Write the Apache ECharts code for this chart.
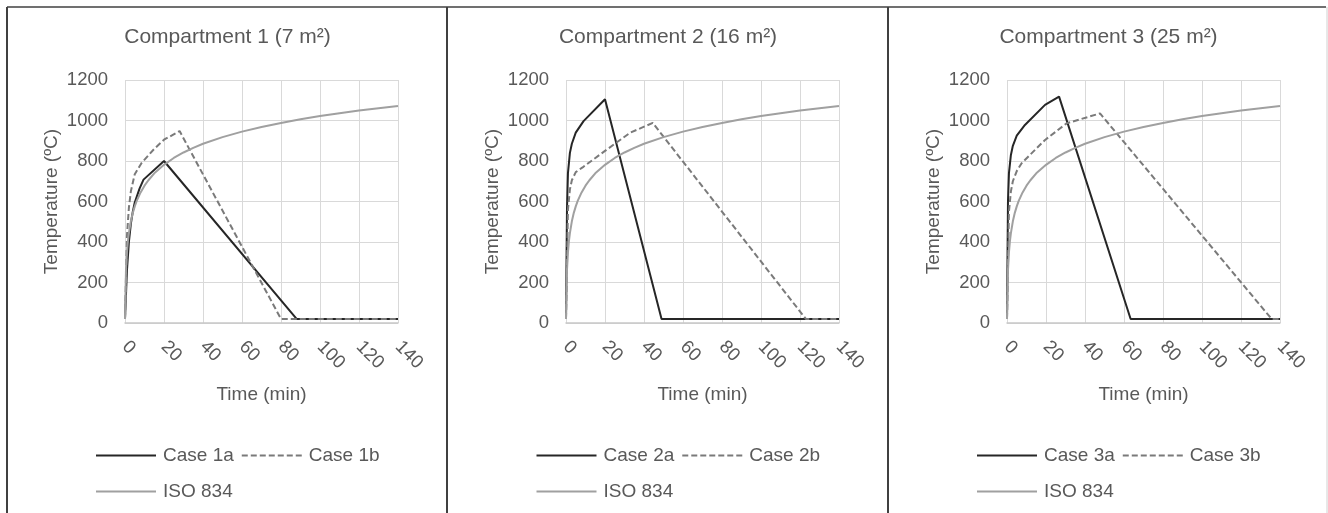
<!DOCTYPE html>
<html>
<head>
<meta charset="utf-8">
<script src="https://cdn.jsdelivr.net/npm/echarts@6/dist/echarts.min.js"></script>
<style>
html, body { margin: 0; padding: 0; background: #fff; }
#chart { width: 1328px; height: 513px; }
</style>
</head>
<body>
<div id="chart"></div>
<script>
// values
var panelTitles = ['Compartment 1 (7 m²)', 'Compartment 2 (16 m²)', 'Compartment 3 (25 m²)'];
var caseNames = [['Case 1a', 'Case 1b'], ['Case 2a', 'Case 2b'], ['Case 3a', 'Case 3b']];
var isoName = 'ISO 834';

// ISO 834 standard curve (same in every panel)
var isoTime = [0, 0.5, 1, 1.5, 2, 3, 4, 5, 6, 8, 10, 12, 15, 20, 25, 30, 35, 40, 50, 60, 70, 80, 90, 100, 110, 120, 130, 140];
var isoTemp = [20, 261, 349, 404, 444, 502, 544, 576, 603, 645, 678, 705, 739, 781, 815, 842, 865, 885, 918, 945, 968, 988, 1006, 1022, 1036, 1049, 1061, 1072];

// compartment 1
var c1aTime = [0, 1, 2, 3, 4, 5, 7.5, 9.5, 20, 88, 140];
var c1aTemp = [20, 260, 400, 490, 550, 595, 665, 708, 800, 20, 20];
var c1bTime = [0, 1, 2, 3, 5, 8.5, 15, 20, 28, 80, 140];
var c1bTemp = [20, 430, 570, 650, 735, 790, 860, 905, 948, 20, 20];

// compartment 2
var c2aTime = [0, 0.5, 1, 2, 3, 5, 9, 20, 49, 140];
var c2aTemp = [20, 560, 740, 840, 885, 940, 997, 1105, 20, 20];
var c2bTime = [0, 1, 2, 3, 5, 8.7, 20, 33, 44.5, 123, 140];
var c2bTemp = [20, 560, 660, 705, 745, 770, 850, 940, 988, 20, 20];

// compartment 3
var c3aTime = [0, 0.5, 1, 2, 3, 5, 9.2, 19.5, 26.7, 63.4, 140];
var c3aTemp = [20, 600, 740, 830, 875, 925, 978, 1077, 1118, 20, 20];
var c3bTime = [0, 1, 2, 3, 5, 7.5, 19.5, 30.6, 47.7, 135.7, 140];
var c3bTemp = [20, 550, 650, 700, 750, 789, 904, 986, 1035, 20, 20];

var caseA = [[c1aTime, c1aTemp], [c2aTime, c2aTemp], [c3aTime, c3aTemp]];
var caseB = [[c1bTime, c1bTemp], [c2bTime, c2bTemp], [c3bTime, c3bTemp]];

var xMin = 0, xMax = 140, xStep = 20;
var yMin = 0, yMax = 1200, yStep = 200;

var FONT = '"Liberation Sans", Arial, sans-serif';
var TXT = '#595959';
var gridLefts = [125, 566, 1007];
var panelShift = [0, 440.5, 881];

function pairs(t, v) {
    var out = [];
    for (var i = 0; i < t.length; i++) out.push([t[i], v[i]]);
    return out;
}
function plain(v) { return String(v); }

var option = {
    backgroundColor: '#fff',
    animation: false,
    textStyle: { fontFamily: FONT },
    title: [], grid: [], xAxis: [], yAxis: [], legend: [], series: [],
    graphic: [
        { type: 'line', shape: { x1: 7, y1: 7, x2: 1326, y2: 7 }, style: { stroke: '#404040', lineWidth: 1.5 } },
        { type: 'line', shape: { x1: 7, y1: 7, x2: 7, y2: 513 }, style: { stroke: '#404040', lineWidth: 2 } },
        { type: 'line', shape: { x1: 447, y1: 7, x2: 447, y2: 513 }, style: { stroke: '#404040', lineWidth: 2 } },
        { type: 'line', shape: { x1: 888, y1: 7, x2: 888, y2: 513 }, style: { stroke: '#404040', lineWidth: 2 } },
        { type: 'line', shape: { x1: 1327, y1: 7, x2: 1327, y2: 513 }, style: { stroke: '#d0d0d0', lineWidth: 1 } }
    ]
};

for (var p = 0; p < 3; p++) {
    option.title.push({
        text: panelTitles[p],
        left: 227.5 + panelShift[p], top: 27, textAlign: 'center', padding: 0,
        textStyle: { color: TXT, fontSize: 21, fontWeight: 'normal', fontFamily: FONT }
    });
    option.grid.push({ left: gridLefts[p], top: 80, width: 273, height: 243 });
    option.xAxis.push({
        type: 'value', gridIndex: p, min: xMin, max: xMax, interval: xStep,
        name: 'Time (min)', nameLocation: 'middle', nameGap: 62,
        nameTextStyle: { color: TXT, fontSize: 19, fontFamily: FONT },
        axisLine: { show: true, lineStyle: { color: '#c8c8c8', width: 1.5 } },
        axisTick: { show: false },
        axisLabel: { color: TXT, fontSize: 18.5, rotate: -45, margin: 21, fontFamily: FONT, formatter: plain },
        splitLine: { show: true, lineStyle: { color: '#d9d9d9', width: 1 } }
    });
    option.yAxis.push({
        type: 'value', gridIndex: p, min: yMin, max: yMax, interval: yStep,
        name: 'Temperature (ºC)', nameLocation: 'middle', nameGap: 64,
        nameTextStyle: { color: TXT, fontSize: 19, fontFamily: FONT },
        axisLine: { show: false }, axisTick: { show: false },
        axisLabel: { color: TXT, fontSize: 18.5, margin: 17, fontFamily: FONT, formatter: plain },
        splitLine: { show: true, lineStyle: { color: '#d9d9d9', width: 1 } }
    });
    var legText = { color: TXT, fontSize: 19, fontFamily: FONT, padding: [0, 0, 0, 2] };
    option.legend.push({
        data: [caseNames[p][0], caseNames[p][1]], left: 90 + panelShift[p], top: 441,
        itemWidth: 60, itemHeight: 14, itemGap: 7, textStyle: legText, selectedMode: false,
        itemStyle: { opacity: 0 }
    });
    option.legend.push({
        data: [isoName], left: 90 + panelShift[p], top: 477,
        itemWidth: 60, itemHeight: 14, textStyle: legText, selectedMode: false,
        itemStyle: { opacity: 0 }
    });
    option.series.push({
        name: caseNames[p][0], type: 'line', xAxisIndex: p, yAxisIndex: p,
        data: pairs(caseA[p][0], caseA[p][1]), symbol: 'none', showSymbol: false,
        lineStyle: { color: '#262626', width: 2 }, itemStyle: { color: '#262626' }
    });
    option.series.push({
        name: caseNames[p][1], type: 'line', xAxisIndex: p, yAxisIndex: p,
        data: pairs(caseB[p][0], caseB[p][1]), symbol: 'none', showSymbol: false,
        lineStyle: { color: '#7a7a7a', width: 2, type: [6, 3] }, itemStyle: { color: '#7a7a7a' }
    });
    option.series.push({
        name: isoName, type: 'line', xAxisIndex: p, yAxisIndex: p,
        data: pairs(isoTime, isoTemp), symbol: 'none', showSymbol: false,
        lineStyle: { color: '#a0a0a0', width: 2 }, itemStyle: { color: '#a0a0a0' }
    });
}

var chart = echarts.init(document.getElementById('chart'), null, { renderer: 'canvas' });
chart.setOption(option);
</script>
</body>
</html>
